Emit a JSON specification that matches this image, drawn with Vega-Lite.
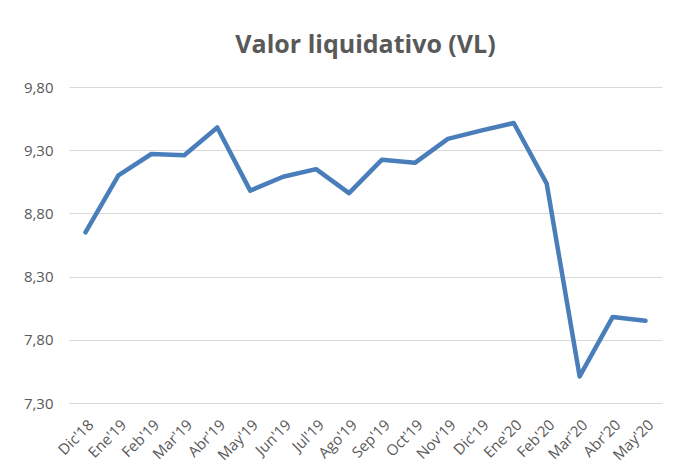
{
  "$schema": "https://vega.github.io/schema/vega-lite/v6.json",
  "width": 593,
  "height": 316,
  "autosize": {"type": "none"},
  "padding": {"left": 69, "top": 87, "right": 14, "bottom": 69},
  "background": "white",
  "title": {
    "text": "Valor liquidativo (VL)",
    "font": "Open Sans",
    "fontSize": 25,
    "fontWeight": "bold",
    "color": "#595959",
    "anchor": "middle",
    "offset": 22
  },
  "config": {
    "view": {"stroke": null}
  },
  "data": {
    "values": [
      {"mes": "Dic'18", "vl": 8.65},
      {"mes": "Ene'19", "vl": 9.10},
      {"mes": "Feb'19", "vl": 9.27},
      {"mes": "Mar'19", "vl": 9.26},
      {"mes": "Abr'19", "vl": 9.48},
      {"mes": "May'19", "vl": 8.98},
      {"mes": "Jun'19", "vl": 9.09},
      {"mes": "Jul'19", "vl": 9.15},
      {"mes": "Ago'19", "vl": 8.96},
      {"mes": "Sep'19", "vl": 9.225},
      {"mes": "Oct'19", "vl": 9.20},
      {"mes": "Nov'19", "vl": 9.39},
      {"mes": "Dic'19", "vl": 9.455},
      {"mes": "Ene'20", "vl": 9.515},
      {"mes": "Feb'20", "vl": 9.035},
      {"mes": "Mar'20", "vl": 7.51},
      {"mes": "Abr'20", "vl": 7.98},
      {"mes": "May'20", "vl": 7.95}
    ]
  },
  "mark": {"type": "line", "color": "#4A7EBB", "strokeWidth": 4.5, "strokeCap": "round", "strokeJoin": "round"},
  "encoding": {
    "x": {
      "field": "mes",
      "type": "ordinal",
      "sort": null,
      "scale": {"type": "point", "padding": 0.5},
      "axis": {
        "title": null,
        "labelAngle": -45,
        "labelFont": "Open Sans",
        "labelFontSize": 15,
        "labelColor": "#595959",
        "ticks": false,
        "domain": true,
        "domainColor": "#D9D9D9",
        "labelPadding": 14
      }
    },
    "y": {
      "field": "vl",
      "type": "quantitative",
      "scale": {"domain": [7.3, 9.8], "zero": false, "nice": false},
      "axis": {
        "title": null,
        "values": [7.3, 7.8, 8.3, 8.8, 9.3, 9.8],
        "labelExpr": "replace(format(datum.value, '.2f'), '.', ',')",
        "labelFont": "Open Sans",
        "labelFontSize": 15,
        "labelColor": "#595959",
        "ticks": false,
        "domain": false,
        "gridColor": "#D9D9D9",
        "labelPadding": 16
      }
    }
  }
}
